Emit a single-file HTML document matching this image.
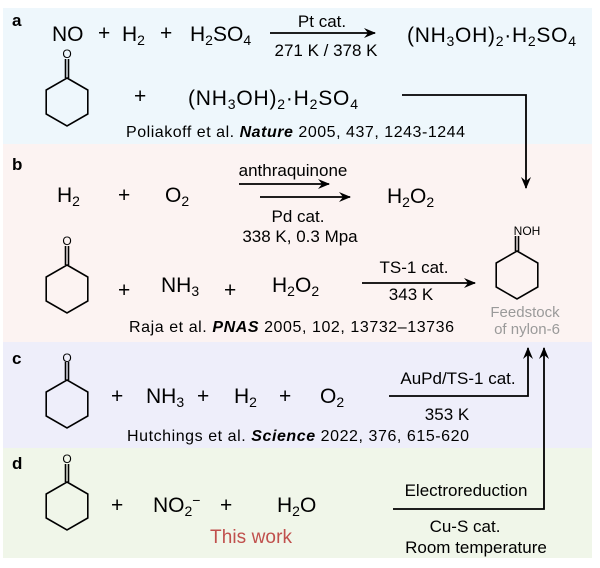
<!DOCTYPE html>
<html><head><meta charset="utf-8"><style>
html,body{margin:0;padding:0;background:#fff;}
svg{display:block;font-family:"Liberation Sans",Arial,sans-serif;}
</style></head><body>
<svg width="600" height="568" viewBox="0 0 600 568" xmlns="http://www.w3.org/2000/svg">
<defs>
<marker id="ah" markerWidth="12" markerHeight="10" refX="11" refY="5" orient="auto" markerUnits="userSpaceOnUse">
<path d="M0,0 L12,5 L0,10 L4,5 Z" fill="#000"/>
</marker>
</defs>
<rect x="3" y="8" width="589" height="136" fill="#eef7fc"/>
<rect x="3" y="144" width="589" height="198" fill="#fcf3f2"/>
<rect x="3" y="342" width="589" height="106" fill="#eeeefa"/>
<rect x="3" y="448" width="589" height="110" fill="#f0f6e9"/>

<g font-weight="bold" font-size="17" fill="#000">
<text x="12" y="26">a</text><text x="12" y="170">b</text><text x="12" y="364">c</text><text x="12" y="469">d</text>
</g>

<g fill="none" stroke="#000" stroke-width="1.6">
<polygon points="67,78 87.8,90 87.8,114 67,126 46.2,114 46.2,90"/>
<line x1="65.5" y1="78" x2="65.5" y2="59"/><line x1="68.5" y1="78" x2="68.5" y2="59"/>
<polygon points="67,265 87.8,277 87.8,301 67,313 46.2,301 46.2,277"/>
<line x1="65.5" y1="265" x2="65.5" y2="246"/><line x1="68.5" y1="265" x2="68.5" y2="246"/>
<polygon points="67,380 87.8,392 87.8,416 67,428 46.2,416 46.2,392"/>
<line x1="65.5" y1="380" x2="65.5" y2="362"/><line x1="68.5" y1="380" x2="68.5" y2="362"/>
<polygon points="67,482 87.8,494 87.8,518 67,530 46.2,518 46.2,494"/>
<line x1="65.5" y1="482" x2="65.5" y2="464"/><line x1="68.5" y1="482" x2="68.5" y2="464"/>
<polygon points="517,251 537.8,263 537.8,287 517,299 496.2,287 496.2,263"/>
<line x1="515.5" y1="251" x2="515.5" y2="236"/><line x1="518.5" y1="251" x2="518.5" y2="236"/>
</g>
<g font-size="12" text-anchor="middle">
<text x="67" y="58">O</text><text x="67" y="245">O</text><text x="67" y="362">O</text><text x="67" y="463">O</text>
<text x="527" y="235">NOH</text>
</g>

<g stroke="#000" stroke-width="1.8" fill="none">
<line x1="270" y1="33" x2="375" y2="33" marker-end="url(#ah)"/>
<polyline points="402,95 526,95 526,188" marker-end="url(#ah)"/>
<line x1="239" y1="184" x2="329" y2="184" marker-end="url(#ah)"/>
<line x1="260" y1="197" x2="350" y2="197" marker-end="url(#ah)"/>
<line x1="362" y1="283" x2="475" y2="283" marker-end="url(#ah)"/>
<polyline points="389,396 528,396 528,348" marker-end="url(#ah)"/>
<polyline points="393,509 544,509 544,348" marker-end="url(#ah)"/>
</g>

<g font-size="21" fill="#000">
<text x="52" y="41">NO</text>
<text x="98" y="40">+</text>
<text x="122" y="41">H<tspan font-size="14" dy="4">2</tspan></text>
<text x="160" y="40">+</text>
<text x="190" y="41">H<tspan font-size="14" dy="4">2</tspan><tspan dy="-4">SO</tspan><tspan font-size="14" dy="4">4</tspan></text>
<text x="407" y="42" textLength="169">(NH<tspan font-size="14" dy="4">3</tspan><tspan dy="-4">OH)</tspan><tspan font-size="14" dy="4">2</tspan><tspan dy="-4">·H</tspan><tspan font-size="14" dy="4">2</tspan><tspan dy="-4">SO</tspan><tspan font-size="14" dy="4">4</tspan></text>
<text x="134" y="103">+</text>
<text x="188" y="105" textLength="170">(NH<tspan font-size="14" dy="4">3</tspan><tspan dy="-4">OH)</tspan><tspan font-size="14" dy="4">2</tspan><tspan dy="-4">·H</tspan><tspan font-size="14" dy="4">2</tspan><tspan dy="-4">SO</tspan><tspan font-size="14" dy="4">4</tspan></text>

<text x="57" y="202">H<tspan font-size="14" dy="4">2</tspan></text>
<text x="118" y="202">+</text>
<text x="165" y="202">O<tspan font-size="14" dy="4">2</tspan></text>
<text x="387" y="203">H<tspan font-size="14" dy="4">2</tspan><tspan dy="-4">O</tspan><tspan font-size="14" dy="4">2</tspan></text>

<text x="118" y="297">+</text>
<text x="161" y="292">NH<tspan font-size="14" dy="4">3</tspan></text>
<text x="224" y="297">+</text>
<text x="272" y="292">H<tspan font-size="14" dy="4">2</tspan><tspan dy="-4">O</tspan><tspan font-size="14" dy="4">2</tspan></text>

<text x="111" y="403">+</text>
<text x="146" y="403">NH<tspan font-size="14" dy="4">3</tspan></text>
<text x="197" y="403">+</text>
<text x="234" y="403">H<tspan font-size="14" dy="4">2</tspan></text>
<text x="279" y="403">+</text>
<text x="320" y="403">O<tspan font-size="14" dy="4">2</tspan></text>

<text x="111" y="512">+</text>
<text x="153" y="512">NO<tspan font-size="14" dy="4">2</tspan><tspan font-size="14" dy="-11">−</tspan></text>
<text x="220" y="512">+</text>
<text x="277" y="512">H<tspan font-size="14" dy="4">2</tspan><tspan dy="-4">O</tspan></text>
</g>

<g font-size="17" fill="#000" text-anchor="middle">
<text x="322" y="27">Pt cat.</text>
<text x="326" y="56">271 K / 378 K</text>
<text x="293" y="176">anthraquinone</text>
<text x="298" y="222">Pd cat.</text>
<text x="300" y="242">338 K, 0.3 Mpa</text>
<text x="414" y="273">TS-1 cat.</text>
<text x="411" y="300">343 K</text>
<text x="458" y="384">AuPd/TS-1 cat.</text>
<text x="447" y="420">353 K</text>
<text x="466" y="496">Electroreduction</text>
<text x="465" y="532">Cu-S cat.</text>
<text x="476" y="553">Room temperature</text>
</g>
<g font-size="15" fill="#9a9a9a" text-anchor="middle">
<text x="525" y="317">Feedstock</text>
<text x="527" y="334">of nylon-6</text>
</g>
<g font-size="16" fill="#000">
<text x="126" y="137" textLength="339">Poliakoff et al. <tspan font-weight="bold" font-style="italic">Nature</tspan> 2005, 437, 1243-1244</text>
<text x="129" y="332" textLength="325">Raja et al. <tspan font-weight="bold" font-style="italic">PNAS</tspan> 2005, 102, 13732–13736</text>
<text x="127" y="441" textLength="342">Hutchings et al. <tspan font-weight="bold" font-style="italic">Science</tspan> 2022, 376, 615-620</text>
</g>
<text x="210" y="543" font-size="19" fill="#c0504d" textLength="82">This work</text>
</svg>
</body></html>
